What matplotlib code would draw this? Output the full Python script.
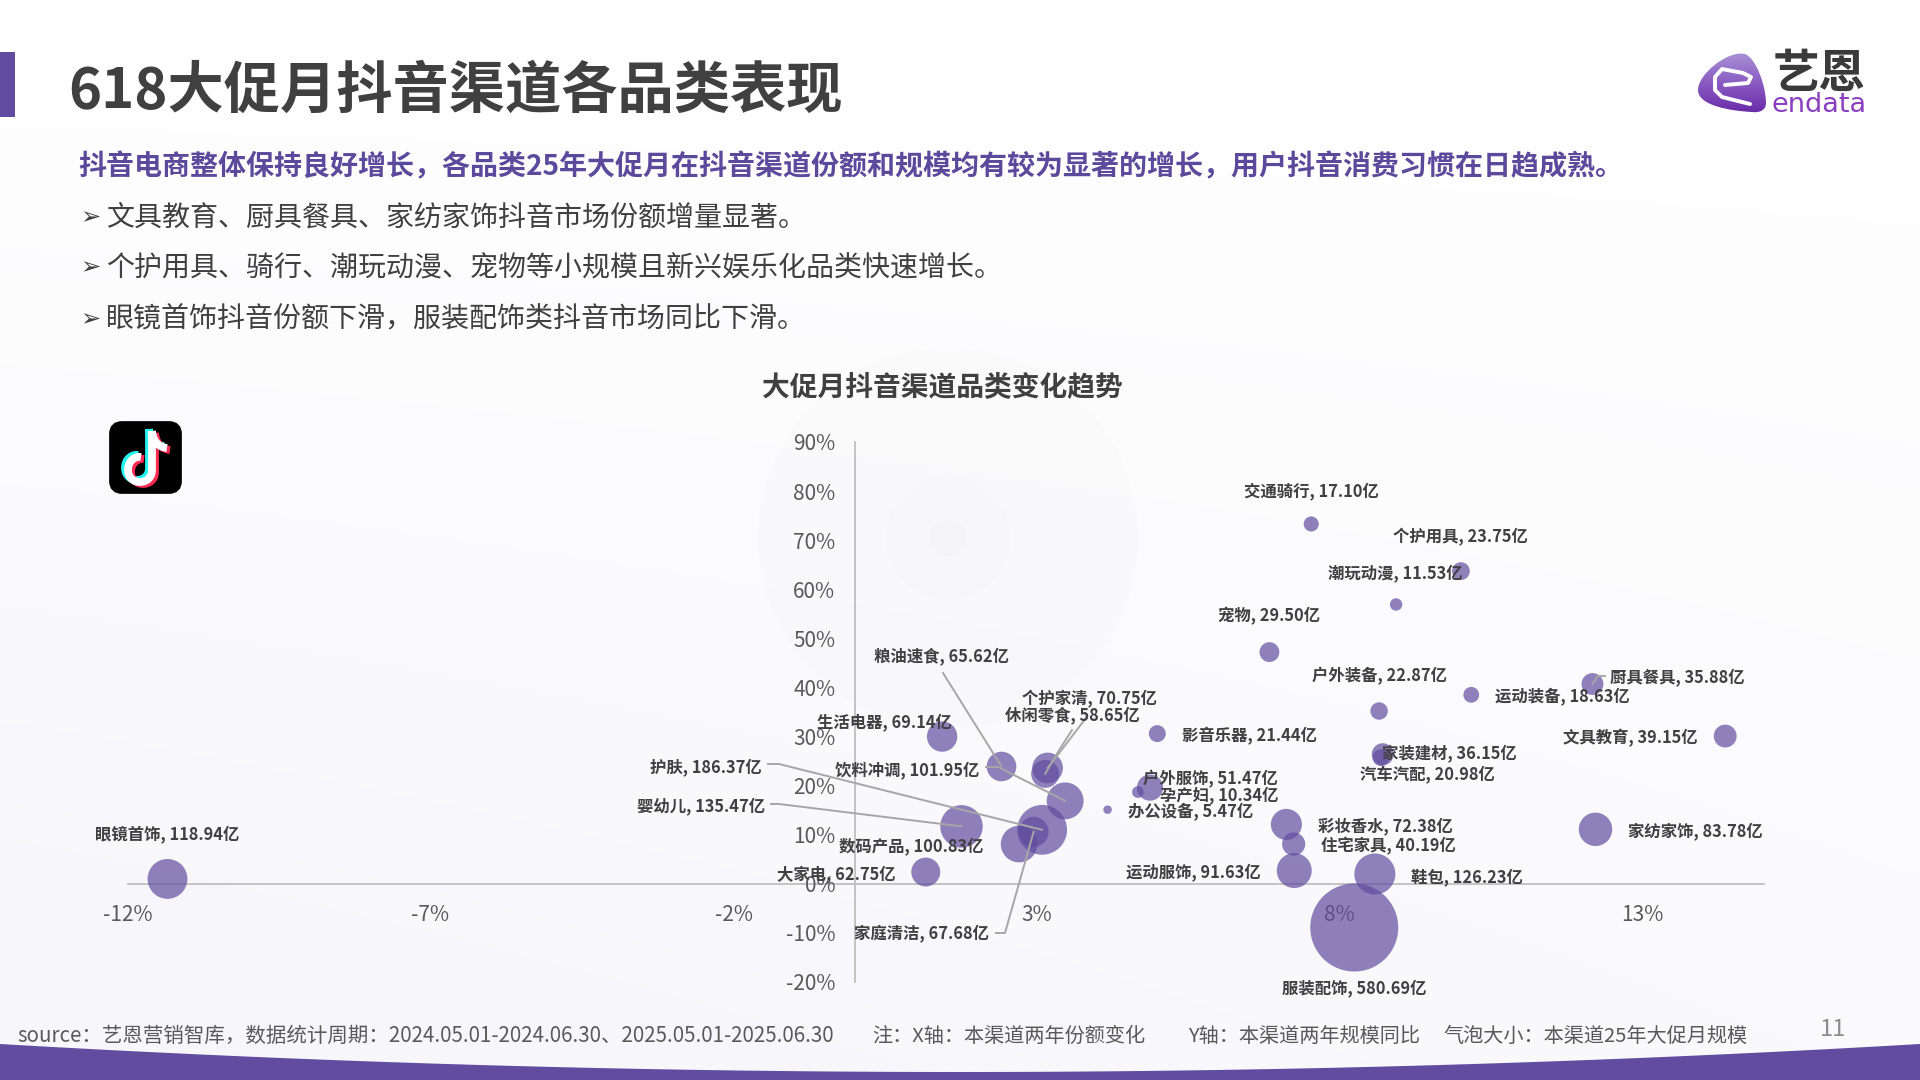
#!/usr/bin/env python3
"""618 promotion month: Douyin channel category bubble chart."""
import numpy as np
import matplotlib
matplotlib.use("Agg")
import matplotlib.pyplot as plt
from matplotlib.colors import LinearSegmentedColormap
from matplotlib.patches import Circle, FancyBboxPatch, PathPatch, Rectangle
from matplotlib.path import Path

plt.rcParams["font.family"] = ["Noto Sans CJK SC", "DejaVu Sans"]

# Data
categories = [
    "眼镜首饰", "大家电", "生活电器", "粮油速食", "婴幼儿", "数码产品", "家庭清洁", "护肤",
    "休闲零食", "个护家清", "饮料冲调", "办公设备", "孕产妇", "户外服饰", "影音乐器", "交通骑行",
    "宠物", "彩妆香水", "住宅家具", "运动服饰", "服装配饰", "鞋包", "潮玩动漫", "户外装备",
    "家装建材", "汽车汽配", "个护用具", "运动装备", "厨具餐具", "家纺家饰", "文具教育",
]
share_change = [
    -11.34, 1.17, 1.44, 2.42, 1.76, 2.71, 2.95, 3.09,
    3.14, 3.18, 3.47, 4.17, 4.67, 4.87, 4.99, 7.53,
    6.84, 7.12, 7.24, 7.25, 8.24, 8.58, 8.93, 8.65,
    8.71, 8.68, 10.0, 10.17, 12.17, 12.22, 14.36,
]
yoy_growth = [
    1.0, 2.4, 30.0, 23.9, 11.7, 8.1, 10.6, 11.0,
    22.4, 23.6, 16.9, 15.1, 18.7, 19.6, 30.6, 73.3,
    47.2, 12.1, 8.1, 2.7, -8.9, 2.0, 56.9, 35.2,
    26.4, 25.7, 63.7, 38.5, 40.7, 11.1, 30.1,
]
scale_yi = [
    118.94, 62.75, 69.14, 65.62, 135.47, 100.83, 67.68, 186.37,
    58.65, 70.75, 101.95, 5.47, 10.34, 51.47, 21.44, 17.10,
    29.50, 72.38, 40.19, 91.63, 580.69, 126.23, 11.53, 22.87,
    36.15, 20.98, 23.75, 18.63, 35.88, 83.78, 39.15,
]
x_ticks = [-12, -7, -2, 3, 8, 13]
y_ticks = [-20, -10, 0, 10, 20, 30, 40, 50, 60, 70, 80, 90]

title = "618大促月抖音渠道各品类表现"
headline = "抖音电商整体保持良好增长，各品类25年大促月在抖音渠道份额和规模均有较为显著的增长，用户抖音消费习惯在日趋成熟。"
bullets = [
    "文具教育、厨具餐具、家纺家饰抖音市场份额增量显著。",
    "个护用具、骑行、潮玩动漫、宠物等小规模且新兴娱乐化品类快速增长。",
    "眼镜首饰抖音份额下滑，服装配饰类抖音市场同比下滑。",
]

# Label centres in slide pixels
label_pos = {
    "眼镜首饰": (167, 833), "大家电": (836, 873), "生活电器": (884, 721), "粮油速食": (942, 656),
    "婴幼儿": (701, 805), "数码产品": (911, 845), "家庭清洁": (922, 933), "护肤": (706, 766),
    "休闲零食": (1072, 714), "个护家清": (1089, 698), "饮料冲调": (907, 769), "办公设备": (1191, 811),
    "孕产妇": (1219, 794), "户外服饰": (1210, 778), "影音乐器": (1249, 735), "交通骑行": (1311, 490),
    "宠物": (1269, 615), "彩妆香水": (1385, 825), "住宅家具": (1388, 845), "运动服饰": (1193, 871),
    "服装配饰": (1354, 987), "鞋包": (1467, 876), "潮玩动漫": (1395, 572), "户外装备": (1379, 675),
    "家装建材": (1449, 752), "汽车汽配": (1427, 774), "个护用具": (1460, 536), "运动装备": (1562, 696),
    "厨具餐具": (1677, 676), "家纺家饰": (1695, 830), "文具教育": (1630, 737),
}
# Leader lines start here and end at the bubble centre
leaders = {
    "粮油速食": [(943, 673)],
    "个护家清": [(1086, 718), (1060, 752)],
    "休闲零食": [(1072, 730), (1058, 752)],
    "饮料冲调": [(986, 767), (998, 767)],
    "护肤": [(768, 764), (779, 764)],
    "婴幼儿": [(771, 804), (779, 804)],
    "家庭清洁": [(996, 933), (1005, 933)],
    "厨具餐具": [(1605, 676), (1598, 676)],
}

PURPLE = "#614c9f"
TEXT = "#404040"
GREY_LINE = "#a6a6a6"
BIG_D_PX = 88.0  # diameter of the 580.69 bubble
LABEL_NUDGE = 1.0  # CJK text sits a little high with va=center


def note_path(dx, dy):
    # TikTok note, in slide pixels
    verts = [
        (152 + dx, 431 + dy), (152 + dx, 470 + dy),
        (152 + dx, 486 + dy), (128 + dx, 486 + dy), (128 + dx, 470 + dy),
        (128 + dx, 460 + dy), (136 + dx, 456 + dy), (141 + dx, 457 + dy),
    ]
    codes = [Path.MOVETO, Path.LINETO, Path.CURVE4, Path.CURVE4, Path.CURVE4,
             Path.CURVE4, Path.CURVE4, Path.CURVE4]
    hook = [(152 + dx, 431 + dy), (153 + dx, 441 + dy), (158 + dx, 447 + dy), (167 + dx, 448 + dy)]
    hook_codes = [Path.MOVETO, Path.CURVE4, Path.CURVE4, Path.CURVE4]
    return Path(verts + hook, codes + hook_codes)


def main() -> None:
    fig = plt.figure(figsize=(19.2, 10.8), dpi=100)

    # Slide layer, coordinates are slide pixels
    bg = fig.add_axes([0, 0, 1, 1], zorder=-1)
    bg.set_xlim(0, 1920)
    bg.set_ylim(1080, 0)
    bg.axis("off")

    shade = np.linspace(0, 1, 60)[:, None] * np.linspace(1, 0.55, 60)[None, :]
    bg.imshow(
        1 - 0.035 * shade[:, :, None] * np.array([1.0, 1.0, 0.45]),
        extent=(0, 1920, 1080, 0), aspect="auto", interpolation="bicubic", zorder=0,
    )
    # Faint rings behind the chart
    for radius, col, z in ((190, "#f6f6f9", 0.5), (100, "#fbfbfd", 0.6), (62, "#f5f5f8", 0.7), (18, "#f1f1f4", 0.8)):
        bg.add_patch(Circle((948, 538), radius, fc=col, ec="none", alpha=0.3, zorder=z))
    bg.add_patch(Rectangle((0, 52), 15, 65, fc=PURPLE, ec="none"))

    xs = np.linspace(0, 1920, 200)
    bg.fill_between(xs, 1072 - 28 * ((xs - 960) / 960) ** 2, 1080, color=PURPLE, lw=0)

    bg.text(68, 91, title, fontsize=40.5, fontweight="bold", color=TEXT, va="center")
    bg.text(78, 167, headline, fontsize=20.2, fontweight="bold", color="#5b4a9c", va="center")
    for text_y, line in zip((217.5, 267, 319.5), bullets):
        bg.text(80, text_y, "➢", fontsize=17.5, color=TEXT, va="center")
        bg.text(106, text_y, line, fontsize=20.15, color=TEXT, va="center")
    bg.text(942, 387, "大促月抖音渠道品类变化趋势", fontsize=20, fontweight="bold", color=TEXT,
            ha="center", va="center")

    # Footer
    foot = {"fontsize": 14.5, "color": "#595959", "va": "center"}
    bg.text(17, 1036, "source：艺恩营销智库，数据统计周期：2024.05.01-2024.06.30、2025.05.01-2025.06.30",
            fontsize=14.76, color="#595959", va="center")
    bg.text(872, 1036, "注：X轴：本渠道两年份额变化", **foot)
    bg.text(1188, 1036, "Y轴：本渠道两年规模同比", **foot)
    bg.text(1443, 1036, "气泡大小：本渠道25年大促月规模", **foot)
    bg.text(1833, 1029, "11", fontsize=17, color="#8c8c8c", ha="center", va="center")

    # Logo
    blob = PathPatch(
        Path(
            [(1745, 54), (1756, 58), (1766, 86), (1766, 103), (1766, 110), (1760, 113), (1752, 112),
             (1732, 111), (1698, 106), (1698, 90), (1698, 74), (1728, 50), (1745, 54)],
            [Path.MOVETO] + [Path.CURVE4] * 12,
        ),
        fc="none", ec="none",
    )
    bg.add_patch(blob)
    logo_cmap = LinearSegmentedColormap.from_list("logo", ["#a88fd4", "#8a5cc2", "#6a2ba8"])
    logo_im = bg.imshow(np.linspace(0, 1, 40)[:, None], extent=(1698, 1766, 113, 53), cmap=logo_cmap,
                        aspect="auto", interpolation="bilinear", zorder=1)
    logo_im.set_clip_path(blob)
    bg.set_xlim(0, 1920)
    bg.set_ylim(1080, 0)
    e_line = [(1725, 85), (1748, 83), (1751, 77), (1743, 73), (1722, 69), (1715, 77), (1715, 90),
              (1722, 97), (1750, 104)]
    bg.plot(*zip(*e_line), color="white", lw=2.8, solid_joinstyle="round", solid_capstyle="round", zorder=2)
    bg.text(1819, 74, "艺恩", fontsize=33.5, fontweight="bold", color="#3a3a3a", ha="center", va="center")
    bg.text(1819, 105, "endata", fontsize=19.5, color="#8a3fc0", ha="center", va="center",
            family=["DejaVu Sans"])

    # TikTok icon
    bg.add_patch(FancyBboxPatch((114, 426), 63, 63, boxstyle="round,pad=0,rounding_size=8", fc="black",
                                ec="black", lw=7, zorder=2))
    for (dx, dy), col in zip(((-3, -2), (3, 2), (0, 0)), ("#25f4ee", "#fe2c55", "white")):
        bg.add_patch(PathPatch(note_path(dx, dy), fc="none", ec=col, lw=5.6, capstyle="butt", zorder=3))

    # Chart
    ax = fig.add_axes([127.5 / 1920, (1080 - 982) / 1080, (1764 - 127.5) / 1920, 540 / 1080])
    ax.patch.set_visible(False)
    ax.set_xlim(-12, 15)
    ax.set_ylim(-20, 90)
    ax.set_axisbelow(True)
    for side in ("top", "right"):
        ax.spines[side].set_visible(False)
    for side in ("left", "bottom"):
        ax.spines[side].set_position(("data", 0))
        ax.spines[side].set_color("#bfbfbf")
        ax.spines[side].set_linewidth(1.3)
        ax.spines[side].set_zorder(0.5)
    ax.set_xticks(x_ticks, [f"{v}%" for v in x_ticks])
    ax.set_yticks(y_ticks, [f"{v}%" for v in y_ticks])
    ax.tick_params(axis="x", length=0, pad=14.5, labelsize=15, labelcolor="#595959")
    ax.tick_params(axis="y", length=0, pad=14, labelsize=15, labelcolor="#595959")

    pt_per_px = 72 / fig.dpi
    diam_px = BIG_D_PX * np.sqrt(np.array(scale_yi) / max(scale_yi))
    ax.scatter(share_change, yoy_growth, s=(diam_px * pt_per_px) ** 2, color=PURPLE, alpha=0.7,
               linewidths=0, zorder=3)

    to_px = bg.transData.inverted()
    centres = dict(zip(categories, zip(share_change, yoy_growth)))
    for name, points in leaders.items():
        end = to_px.transform(ax.transData.transform(centres[name]))
        line = np.array(points + [tuple(end)])
        ax.plot(line[:, 0], line[:, 1], transform=bg.transData, color=GREY_LINE, lw=1.4,
                clip_on=False, zorder=4)

    for name, value in zip(categories, scale_yi):
        lx, ly = label_pos[name]
        ax.text(lx, ly + LABEL_NUDGE, f"{name}, {value:.2f}亿", transform=bg.transData, fontsize=11.8,
                fontweight="bold", color=TEXT, ha="center", va="center", clip_on=False, zorder=5)

    fig.savefig("out.png", dpi=100)
    plt.close(fig)


if __name__ == "__main__":
    main()
